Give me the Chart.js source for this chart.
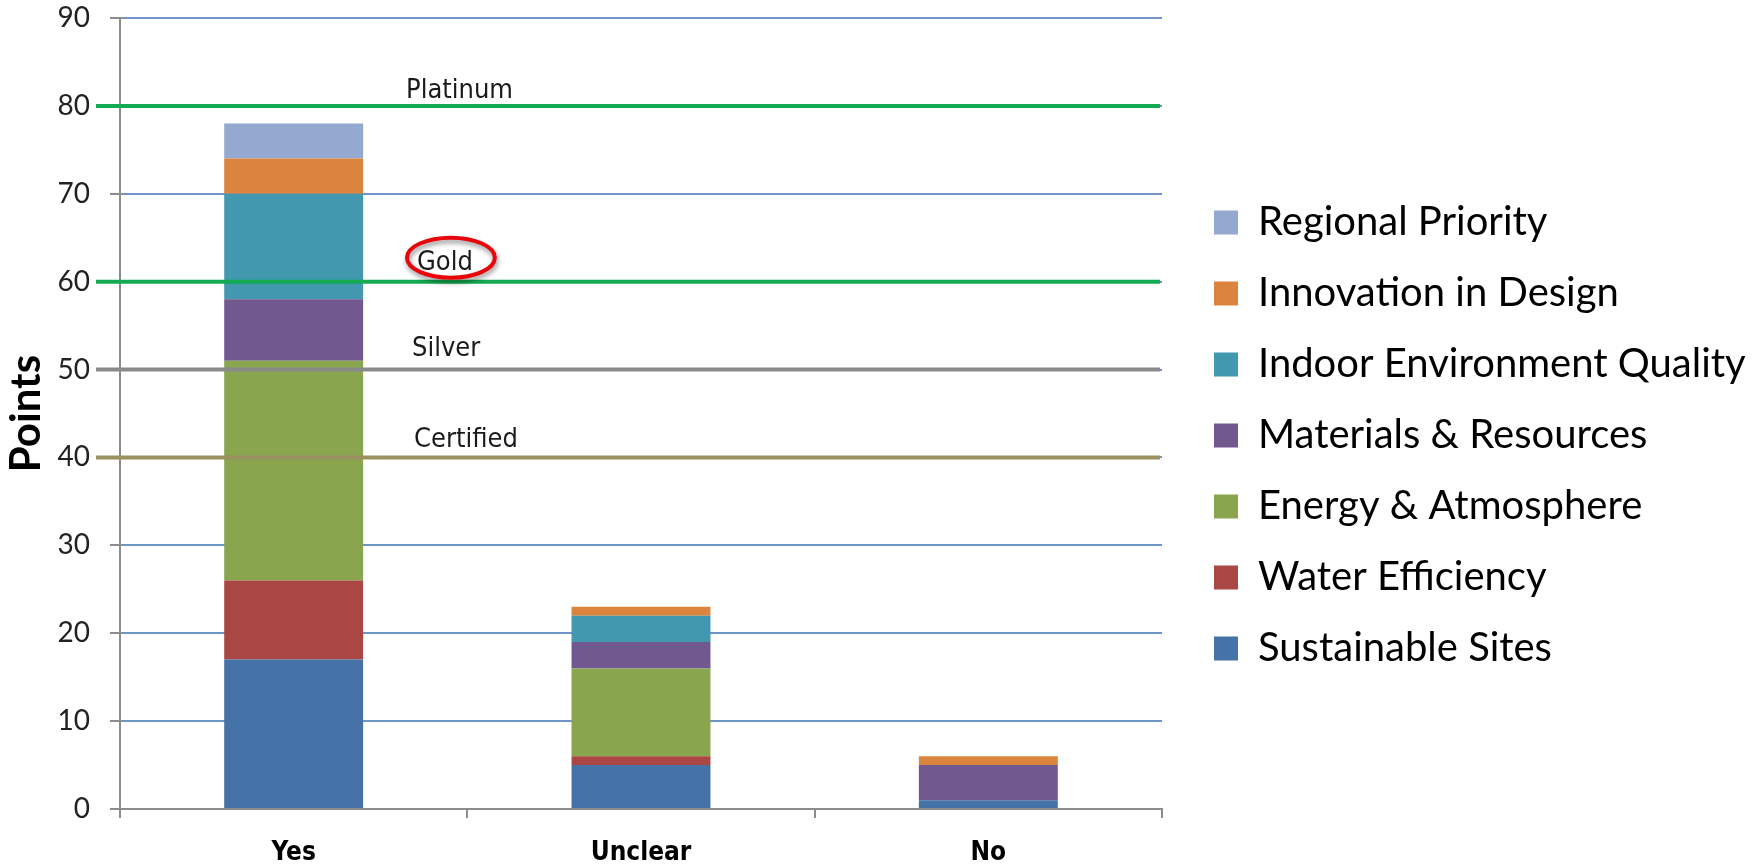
<!DOCTYPE html>
<html>
<head>
<meta charset="utf-8">
<title>LEED points</title>
<script src="https://cdn.jsdelivr.net/npm/chart.js@4.4.1/dist/chart.umd.min.js"></script>
<style>
  html, body { margin: 0; padding: 0; background: #fff; }
  #wrap { width: 1760px; height: 868px; }
</style>
</head>
<body>
<div id="wrap"><canvas id="leedPoints"></canvas></div>
<script>
const categories = ['Yes', 'Unclear', 'No'];

// points per credit category, stacked bottom to top
const sustainableSites   = [17, 5, 1];
const waterEfficiency    = [9, 1, 0];
const energyAtmosphere   = [25, 10, 0];
const materialsResources = [7, 3, 4];
const indoorEnvironment  = [12, 3, 0];
const innovationDesign   = [4, 1, 1];
const regionalPriority   = [4, 0, 0];

const yMin = 0;
const yMax = 90;
const yStep = 10;

// certification thresholds
const levelNames  = ['Platinum', 'Gold', 'Silver', 'Certified'];
const levelPoints = [80, 60, 50, 40];
const circledLevel = 'Gold';

const calibri = 'Lato, "Liberation Sans", sans-serif';
const tahoma = '"DejaVu Sans Condensed", "DejaVu Sans", sans-serif';

const legendFont = {family: calibri, size: 40};
const legendBox = 24;
const legendPad = 31;
const plotRight = 1162;
const legendGap = 21;

const levelLines = {
  id: 'levelLines',
  afterDatasetsDraw(chart, args, opts) {
    const {ctx, chartArea, scales: {y}} = chart;
    ctx.save();
    levelPoints.forEach((v, i) => {
      const py = y.getPixelForValue(v);
      ctx.strokeStyle = opts.colors[i];
      ctx.lineWidth = 4;
      ctx.beginPath();
      ctx.moveTo(chartArea.left - 24, py);
      ctx.lineTo(chartArea.right - 2, py);
      ctx.stroke();

      const lx = chartArea.left + 290 + opts.shift[i];
      const ly = py - opts.lift[i];
      ctx.font = '27px ' + tahoma;
      ctx.fillStyle = '#1a1a1a';
      ctx.textAlign = 'left';
      ctx.textBaseline = 'alphabetic';
      ctx.fillText(levelNames[i], lx, ly);

      if (levelNames[i] === circledLevel) {
        const w = ctx.measureText(levelNames[i]).width;
        ctx.save();
        ctx.shadowColor = 'rgba(0,0,0,0.45)';
        ctx.shadowBlur = 5;
        ctx.shadowOffsetX = 1;
        ctx.shadowOffsetY = 3;
        ctx.strokeStyle = '#e8060a';
        ctx.lineWidth = 4;
        ctx.beginPath();
        ctx.ellipse(lx + w / 2 + 6, ly - 12, w / 2 + 16, 20, 0, 0, Math.PI * 2);
        ctx.stroke();
        ctx.restore();
      }
    });
    ctx.restore();
  }
};

const data = {
  labels: categories,
  datasets: [
    {label: 'Sustainable Sites', data: sustainableSites, backgroundColor: '#4572a7'},
    {label: 'Water Efficiency', data: waterEfficiency, backgroundColor: '#aa4643'},
    {label: 'Energy & Atmosphere', data: energyAtmosphere, backgroundColor: '#89a54e'},
    {label: 'Materials & Resources', data: materialsResources, backgroundColor: '#71588f'},
    {label: 'Indoor Environment Quality', data: indoorEnvironment, backgroundColor: '#4198af'},
    {label: 'Innovation in Design', data: innovationDesign, backgroundColor: '#db843d'},
    {label: 'Regional Priority', data: regionalPriority, backgroundColor: '#93a9cf'}
  ]
};
data.datasets.forEach(ds => {
  ds.barPercentage = 0.4;
  ds.categoryPercentage = 1.0;
  ds.borderWidth = 0;
});

// legend width as Chart.js computes it, so the plot can end at plotRight
const measure = document.createElement('canvas').getContext('2d');
measure.font = legendFont.size + 'px ' + legendFont.family;
const longestLabel = Math.max(...data.datasets.map(ds => measure.measureText(ds.label).width));
const legendWidth = legendPad + legendBox + legendFont.size / 2 + longestLabel + 10;
const rightPad = Math.max(0, 1760 - plotRight - legendGap - legendWidth);

const config = {
  type: 'bar',
  data: data,
  plugins: [levelLines],
  options: {
    responsive: true,
    maintainAspectRatio: false,
    animation: false,
    layout: {padding: {top: 18, right: rightPad, bottom: 0, left: 0}},
    plugins: {
      tooltip: {enabled: false},
      levelLines: {
        colors: ['#13aa52', '#13aa52', '#8a8a8a', '#9a9060'],
        lift: [8, 12, 14, 10],
        shift: [-4, 7, 2, 4]
      },
      legend: {
        position: 'right',
        align: 'start',
        reverse: true,
        maxWidth: 800,
        // empty title only pushes the items down
        title: {display: true, text: '', padding: {top: 139, bottom: 0}, font: {size: 12}},
        labels: {
          boxWidth: legendBox,
          boxHeight: legendBox,
          padding: legendPad,
          color: '#000',
          font: legendFont
        }
      }
    },
    scales: {
      x: {
        stacked: true,
        grid: {
          drawOnChartArea: false,
          tickLength: 9,
          tickColor: '#8c8c8c',
          lineWidth: 2
        },
        border: {color: '#8c8c8c', width: 2},
        ticks: {
          color: '#000',
          padding: 20,
          font: {family: tahoma, size: 26, weight: 'bold'}
        },
        afterFit: s => { s.height = 59; }
      },
      y: {
        stacked: true,
        min: yMin,
        max: yMax,
        ticks: {
          stepSize: yStep,
          color: '#222',
          padding: 20,
          font: {family: calibri, size: 28}
        },
        grid: {
          color: '#7096c9',
          lineWidth: 2,
          tickColor: '#8c8c8c',
          tickLength: 10
        },
        border: {color: '#8c8c8c', width: 2},
        title: {
          display: true,
          text: 'Points',
          color: '#000',
          padding: {top: 1, bottom: 0},
          font: {family: calibri, size: 42, weight: 'bold'}
        },
        afterFit: s => {
          s.width = 120;
          s.paddingTop = 0;
          s.paddingBottom = 0;
        }
      },
      // spacer between plot and legend
      gap: {
        type: 'linear',
        position: 'right',
        display: true,
        grid: {display: false},
        ticks: {display: false},
        border: {display: false},
        afterFit: s => {
          s.width = legendGap;
          s.paddingTop = 0;
          s.paddingBottom = 0;
        }
      }
    }
  }
};

const leedChart = new Chart(document.getElementById('leedPoints'), config);
</script>
</body>
</html>
